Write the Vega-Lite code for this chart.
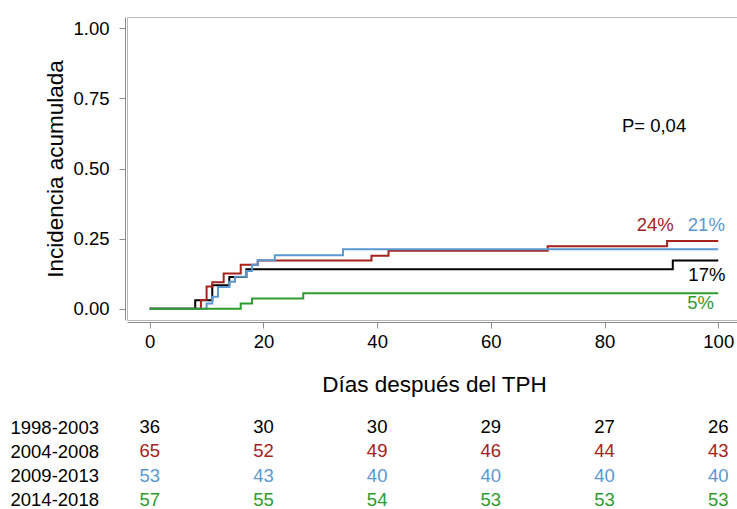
{
  "$schema": "https://vega.github.io/schema/vega-lite/v6.json",
  "padding": {"left": 10, "top": 16, "right": 0, "bottom": 0},
  "spacing": 18,
  "config": {
    "font": "Liberation Sans",
    "view": {"stroke": "#b8b8b8", "strokeWidth": 1},
    "axis": {
      "grid": false,
      "domainColor": "#8c8c8c",
      "tickColor": "#8c8c8c",
      "labelColor": "#000000",
      "titleColor": "#000000",
      "labelFont": "Liberation Sans",
      "titleFont": "Liberation Sans",
      "labelFontSize": 18.5,
      "titleFontSize": 22.5,
      "titleFontWeight": "normal"
    }
  },
  "datasets": {
    "curves": [
      {"group": "1998-2003", "t": 0, "ci": 0},
      {"group": "1998-2003", "t": 8, "ci": 0.03},
      {"group": "1998-2003", "t": 11, "ci": 0.084},
      {"group": "1998-2003", "t": 14, "ci": 0.113},
      {"group": "1998-2003", "t": 17, "ci": 0.141},
      {"group": "1998-2003", "t": 92, "ci": 0.172},
      {"group": "1998-2003", "t": 100, "ci": 0.172},
      {"group": "2004-2008", "t": 0, "ci": 0},
      {"group": "2004-2008", "t": 9, "ci": 0.031},
      {"group": "2004-2008", "t": 10, "ci": 0.079},
      {"group": "2004-2008", "t": 11, "ci": 0.095},
      {"group": "2004-2008", "t": 13, "ci": 0.126},
      {"group": "2004-2008", "t": 16, "ci": 0.157},
      {"group": "2004-2008", "t": 19, "ci": 0.172},
      {"group": "2004-2008", "t": 39, "ci": 0.189},
      {"group": "2004-2008", "t": 42, "ci": 0.207},
      {"group": "2004-2008", "t": 70, "ci": 0.223},
      {"group": "2004-2008", "t": 91, "ci": 0.242},
      {"group": "2004-2008", "t": 100, "ci": 0.242},
      {"group": "2009-2013", "t": 0, "ci": 0},
      {"group": "2009-2013", "t": 10, "ci": 0.019},
      {"group": "2009-2013", "t": 11, "ci": 0.043},
      {"group": "2009-2013", "t": 12, "ci": 0.078},
      {"group": "2009-2013", "t": 14, "ci": 0.096},
      {"group": "2009-2013", "t": 15, "ci": 0.114},
      {"group": "2009-2013", "t": 17, "ci": 0.135},
      {"group": "2009-2013", "t": 18, "ci": 0.157},
      {"group": "2009-2013", "t": 19, "ci": 0.173},
      {"group": "2009-2013", "t": 22, "ci": 0.191},
      {"group": "2009-2013", "t": 34, "ci": 0.212},
      {"group": "2009-2013", "t": 100, "ci": 0.212},
      {"group": "2014-2018", "t": 0, "ci": 0},
      {"group": "2014-2018", "t": 16, "ci": 0.019},
      {"group": "2014-2018", "t": 18, "ci": 0.037},
      {"group": "2014-2018", "t": 27, "ci": 0.055},
      {"group": "2014-2018", "t": 100, "ci": 0.055}
    ],
    "labels": [
      {"group": "2004-2008", "label": "24%", "t": 88.9, "ci": 0.299},
      {"group": "2009-2013", "label": "21%", "t": 97.9, "ci": 0.299},
      {"group": "1998-2003", "label": "17%", "t": 98.0, "ci": 0.121},
      {"group": "2014-2018", "label": "5%", "t": 96.9, "ci": 0.022}
    ],
    "pval": [
      {"label": "P= 0,04", "t": 88.7, "ci": 0.651}
    ],
    "risk": [
      {"group": "1998-2003", "t": 0, "n": 36},
      {"group": "1998-2003", "t": 20, "n": 30},
      {"group": "1998-2003", "t": 40, "n": 30},
      {"group": "1998-2003", "t": 60, "n": 29},
      {"group": "1998-2003", "t": 80, "n": 27},
      {"group": "1998-2003", "t": 100, "n": 26},
      {"group": "2004-2008", "t": 0, "n": 65},
      {"group": "2004-2008", "t": 20, "n": 52},
      {"group": "2004-2008", "t": 40, "n": 49},
      {"group": "2004-2008", "t": 60, "n": 46},
      {"group": "2004-2008", "t": 80, "n": 44},
      {"group": "2004-2008", "t": 100, "n": 43},
      {"group": "2009-2013", "t": 0, "n": 53},
      {"group": "2009-2013", "t": 20, "n": 43},
      {"group": "2009-2013", "t": 40, "n": 40},
      {"group": "2009-2013", "t": 60, "n": 40},
      {"group": "2009-2013", "t": 80, "n": 40},
      {"group": "2009-2013", "t": 100, "n": 40},
      {"group": "2014-2018", "t": 0, "n": 57},
      {"group": "2014-2018", "t": 20, "n": 55},
      {"group": "2014-2018", "t": 40, "n": 54},
      {"group": "2014-2018", "t": 60, "n": 53},
      {"group": "2014-2018", "t": 80, "n": 53},
      {"group": "2014-2018", "t": 100, "n": 53}
    ]
  },
  "vconcat": [
    {
      "width": 614,
      "height": 303,
      "layer": [
        {
          "data": {"name": "curves"},
          "mark": {"type": "line", "interpolate": "step-after", "strokeWidth": 2},
          "encoding": {
            "x": {
              "field": "t", "type": "quantitative",
              "scale": {"domain": [-4, 104], "nice": false, "zero": false},
              "axis": {
                "title": "Días después del TPH",
                "values": [0, 20, 40, 60, 80, 100],
                "offset": 2, "tickSize": 6, "labelPadding": 4, "titlePadding": 23,
                "labelFlush": false
              }
            },
            "y": {
              "field": "ci", "type": "quantitative",
              "scale": {"domain": [-0.04, 1.04], "nice": false, "zero": false},
              "axis": {
                "title": "Incidencia acumulada",
                "values": [0, 0.25, 0.5, 0.75, 1],
                "format": ".2f",
                "offset": 2, "tickSize": 6, "labelPadding": 10, "titlePadding": 5,
                "labelFlush": false
              }
            },
            "color": {
              "field": "group", "type": "nominal",
              "scale": {
                "domain": ["1998-2003", "2004-2008", "2009-2013", "2014-2018"],
                "range": ["#000000", "#a6221c", "#5a98d2", "#2e9b2e"]
              },
              "legend": null
            },
            "order": {"field": "t", "type": "quantitative"}
          }
        },
        {
          "data": {"name": "labels"},
          "mark": {"type": "text", "fontSize": 18.5, "align": "center", "baseline": "middle"},
          "encoding": {
            "x": {"field": "t", "type": "quantitative"},
            "y": {"field": "ci", "type": "quantitative"},
            "text": {"field": "label"},
            "color": {"field": "group", "type": "nominal", "legend": null}
          }
        },
        {
          "data": {"name": "pval"},
          "mark": {"type": "text", "fontSize": 18.5, "align": "center", "baseline": "middle", "color": "#000000"},
          "encoding": {
            "x": {"field": "t", "type": "quantitative"},
            "y": {"field": "ci", "type": "quantitative"},
            "text": {"field": "label"}
          }
        }
      ]
    },
    {
      "width": 614,
      "height": 97,
      "view": {"stroke": null},
      "data": {"name": "risk"},
      "mark": {"type": "text", "fontSize": 18.5, "align": "center", "baseline": "middle"},
      "encoding": {
        "x": {
          "field": "t", "type": "quantitative",
          "scale": {"domain": [-4, 104], "nice": false, "zero": false},
          "axis": null
        },
        "y": {
          "field": "group", "type": "nominal",
          "sort": ["1998-2003", "2004-2008", "2009-2013", "2014-2018"],
          "axis": {
            "title": null, "domain": false, "ticks": false,
            "labelAlign": "left", "labelPadding": 117, "labelFontSize": 18.5,
            "encode": {"labels": {"update": {"fill": {"signal": "datum.value == '2004-2008' ? '#a6221c' : datum.value == '2009-2013' ? '#5a98d2' : datum.value == '2014-2018' ? '#2e9b2e' : '#000000'"}}}}
          }
        },
        "text": {"field": "n", "type": "quantitative"},
        "color": {
          "field": "group", "type": "nominal",
          "scale": {
            "domain": ["1998-2003", "2004-2008", "2009-2013", "2014-2018"],
            "range": ["#000000", "#a6221c", "#5a98d2", "#2e9b2e"]
          },
          "legend": null
        }
      }
    }
  ]
}
